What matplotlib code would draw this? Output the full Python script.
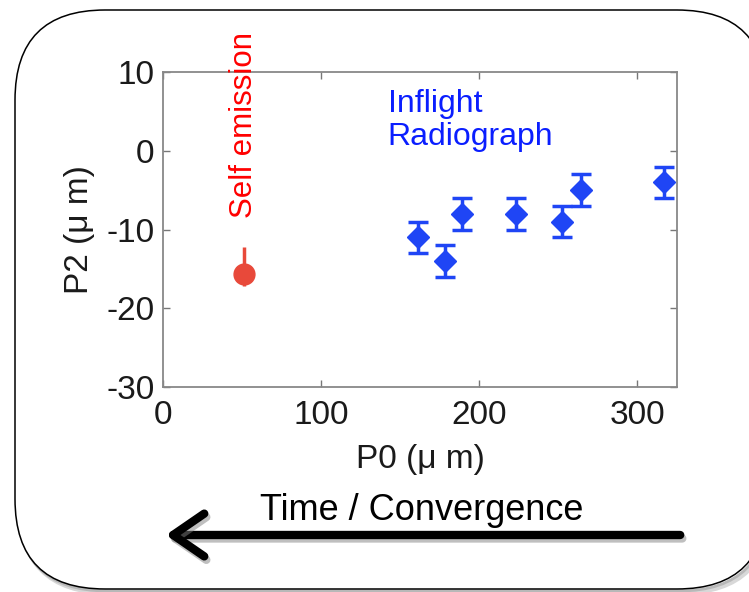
import numpy as np
import matplotlib
matplotlib.use("Agg")
import matplotlib.pyplot as plt
from matplotlib.patches import FancyBboxPatch, FancyArrowPatch
from matplotlib.transforms import IdentityTransform
import matplotlib.patheffects as pe

plt.rcParams['font.family'] = ['Liberation Sans', 'DejaVu Sans']
plt.rcParams['axes.unicode_minus'] = False

# self emission point
se_x = [51]
se_y = [-15.7]
se_err_lo = [1.5]
se_err_hi = [3.5]

# inflight radiograph points
rad_x = [161, 178, 189, 223, 252, 264, 317]
rad_y = [-11, -14, -8, -8, -9, -5, -4]
rad_err = [2, 2, 2, 2, 2, 2, 2]

W, H = 749, 592
fig = plt.figure(figsize=(W / 100, H / 100), dpi=100)

# rounded frame with a soft shadow
for off, col, lw in [(4, '#d8d8d8', 3), (2, '#b8b8b8', 2)]:
    sh = FancyBboxPatch((15 + off, 3 - off), 752, 579,
                        boxstyle="round,pad=0,rounding_size=90",
                        transform=IdentityTransform(), fill=False,
                        edgecolor=col, linewidth=lw, zorder=0)
    fig.add_artist(sh)
frame = FancyBboxPatch((15, 3), 752, 579,
                       boxstyle="round,pad=0,rounding_size=90",
                       transform=IdentityTransform(), facecolor='white',
                       edgecolor='black', linewidth=1.1, zorder=1)
fig.add_artist(frame)

ax = fig.add_axes([163 / W, 1 - 387 / H, (677 - 163) / W, (387 - 72) / H])
ax.set_zorder(2)
ax.set_facecolor('white')

ax.errorbar(se_x, se_y, yerr=[se_err_lo, se_err_hi], fmt='o', color='#e8493a',
            markersize=15, elinewidth=2.5, capsize=0, zorder=3)
ax.errorbar(rad_x, rad_y, yerr=rad_err, fmt='D', color='#1f45f5',
            markersize=11, elinewidth=2.5, capsize=7, capthick=2.5, zorder=3)

ax.text(51, -8.6, 'Self emission', rotation=90, color='#ff0000',
        fontsize=22.5, ha='center', va='bottom')
ax.text(142, 7.8, 'Inflight\nRadiograph', color='#0a1eff', fontsize=23,
        ha='left', va='top', linespacing=1.1)

ax.set_xlim(0, 325)
ax.set_ylim(-30, 10)
ax.set_xticks([0, 100, 200, 300])
ax.set_yticks([-30, -20, -10, 0, 10])
ax.tick_params(direction='in', top=True, right=True, length=5, width=1,
               color='#777777', labelsize=24, labelcolor='#1a1a1a')
ax.tick_params(axis='x', pad=9)
ax.tick_params(axis='y', pad=6)
for s in ax.spines.values():
    s.set_color('#888888')
    s.set_linewidth(1.3)

ax.set_xlabel('P0 (μ m)', fontsize=24, color='#1a1a1a', labelpad=10)
ax.set_ylabel('P2 (μ m)', fontsize=24, color='#1a1a1a', labelpad=8)

fig.text(422 / W, 1 - 511 / H, 'Time / Convergence', fontsize=26,
         ha='center', va='center', color='black', zorder=3)

arrow = FancyArrowPatch((683, H - 535), (163, H - 535), transform=IdentityTransform(),
                        arrowstyle='->,head_length=1.6,head_width=1.1',
                        mutation_scale=14, linewidth=6, color='black',
                        capstyle='round', joinstyle='round', zorder=3,
                        path_effects=[pe.SimpleLineShadow(offset=(1.5, -2.5), shadow_color='gray', alpha=0.5),
                                      pe.Normal()])
fig.add_artist(arrow)

fig.savefig('out.png', dpi=100)
